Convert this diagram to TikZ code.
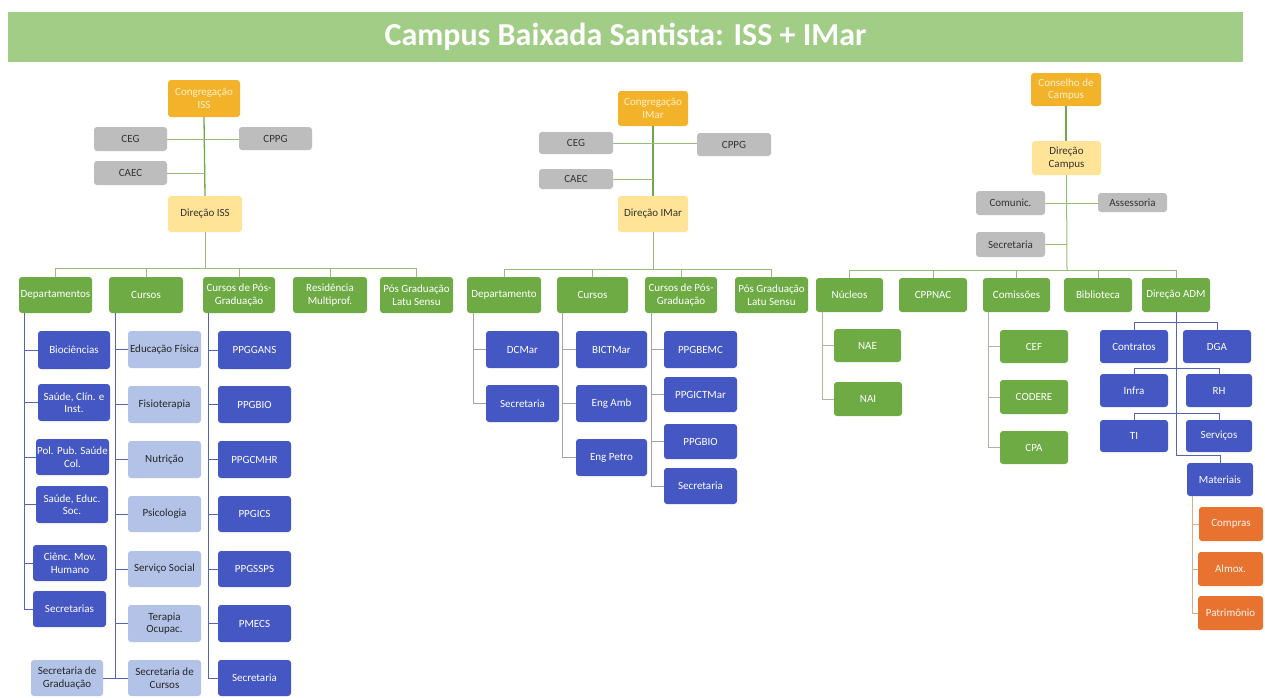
\documentclass[tikz,border=0pt]{standalone}
\usepackage{fontspec}
\setmainfont{Carlito}
\usetikzlibrary{calc}
\definecolor{cTitle}{HTML}{A2CD87}
\definecolor{cOrange}{HTML}{F2B32A}
\definecolor{cOrangeTxt}{HTML}{FFF0C8}
\definecolor{cYellow}{HTML}{FFE497}
\definecolor{cGray}{HTML}{BDBDBD}
\definecolor{cGreen}{HTML}{6EAB45}
\definecolor{cBlue}{HTML}{4457C2}
\definecolor{cLBlue}{HTML}{B3C3E8}
\definecolor{cOr}{HTML}{E8722F}
\definecolor{lnTop}{HTML}{96BE7A}
\definecolor{lnTopDark}{HTML}{6EA84A}
\definecolor{lnBlue}{HTML}{5565B5}
\definecolor{lnGray}{HTML}{A3A3A3}
\definecolor{lnGG}{HTML}{A8BA98}
\definecolor{lnTan}{HTML}{D8AE86}
\tikzset{
  box/.style={rounded corners=3pt, align=center, inner sep=0.5pt, font=\fontsize{11}{12.5}\selectfont},
  topbox/.style={box, fill=cOrange, text=cOrangeTxt},
  yelbox/.style={box, fill=cYellow, text=black!80},
  graybox/.style={box, fill=cGray, text=black!80},
  grnbox/.style={box, fill=cGreen, text=white},
  bluebox/.style={box, fill=cBlue, text=white},
  lbbox/.style={box, fill=cLBlue, text=black!85},
  orbox/.style={box, fill=cOr, text=white!92!orange},
  lnT/.style={draw=lnTop, line width=1pt},
  lnTD/.style={draw=lnTopDark, line width=1.3pt},
  lnB/.style={draw=lnBlue, line width=1pt},
  lnG/.style={draw=lnGray, line width=1pt},
  lnGG/.style={draw=lnGG, line width=1pt},
  lnA/.style={draw=lnBlue, line width=1pt},
  lnO/.style={draw=lnTan, line width=1pt},
}
\newcommand\bx[7]{\node[#6, minimum width={(#4-#2)*1pt}, minimum height={(#5-#3)*1pt}] (#1) at ({(#2+#4)/2},{(#3+#5)/2}) {#7};}
\begin{document}
\begin{tikzpicture}[x=1pt, y=-1pt]
\useasboundingbox (0,0) rectangle (1265,697);
\fill[white] (0,0) rectangle (1265,697);
% title
\node[fill=cTitle, minimum width=1235pt, minimum height=50pt, inner sep=0pt, text=white, font=\fontsize{32}{34}\selectfont\bfseries] (title) at (625.5,37) {Campus Baixada Santista: ISS + IMar};

% ================= ISS =================
\bx{congISS}{168}{80}{240}{117}{topbox}{Congregação\\ISS}
\bx{cegS}{94}{127}{167}{151}{graybox}{CEG}
\bx{cppgS}{239}{127}{312}{150}{graybox}{CPPG}
\bx{caecS}{94}{161}{167}{185}{graybox}{CAEC}
\bx{dirISS}{168}{196}{242}{232}{yelbox}{Direção ISS}

\bx{depS}{19}{277}{92}{313}{grnbox}{Departamentos}
\bx{curS}{109}{277}{183}{313}{grnbox}{Cursos}
\bx{posS}{203}{277}{275}{313}{grnbox}{Cursos de Pós-\\Graduação}
\bx{resS}{293}{277}{367}{313}{grnbox}{Residência\\Multiprof.}
\bx{latS}{380}{277}{453}{313}{grnbox}{Pós Graduação\\Latu Sensu}

\bx{bio}{38}{331}{110}{369}{bluebox}{Biociências}
\bx{sci}{38}{384}{110}{421}{bluebox}{Saúde, Clín. e\\Inst.}
\bx{pps}{36}{439}{109}{475}{bluebox}{Pol. Pub. Saúde\\Col.}
\bx{ses}{36}{486}{108}{523}{bluebox}{Saúde, Educ.\\Soc.}
\bx{cmh}{33}{545}{107}{581}{bluebox}{Ciênc. Mov.\\Humano}
\bx{secs}{33}{591}{106}{627}{bluebox}{Secretarias}

\bx{edf}{128}{331}{201}{368}{lbbox}{Educação Física}
\bx{fis}{128}{386}{201}{423}{lbbox}{Fisioterapia}
\bx{nut}{128}{441}{201}{478}{lbbox}{Nutrição}
\bx{psi}{128}{496}{201}{532}{lbbox}{Psicologia}
\bx{sso}{128}{551}{201}{587}{lbbox}{Serviço Social}
\bx{tocu}{128}{605}{201}{642}{lbbox}{Terapia\\Ocupac.}
\bx{secc}{128}{660}{201}{696}{lbbox}{Secretaria de\\Cursos}
\bx{secg}{31}{660}{103}{696}{lbbox}{Secretaria de\\Graduação}

\bx{pgans}{218}{331}{291}{369}{bluebox}{PPGGANS}
\bx{pgbio}{218}{386}{291}{423}{bluebox}{PPGBIO}
\bx{pgcm}{218}{441}{291}{478}{bluebox}{PPGCMHR}
\bx{pgics}{218}{496}{291}{532}{bluebox}{PPGICS}
\bx{pgss}{218}{551}{291}{587}{bluebox}{PPGSSPS}
\bx{pmecs}{218}{605}{291}{642}{bluebox}{PMECS}
\bx{pgsec}{218}{660}{291}{696}{bluebox}{Secretaria}

\draw[lnTD] (congISS.south) -- (dirISS.north);
\draw[lnT] (cegS.east) -- (cegS.east -| cppgS.west);
\draw[lnT] (caecS.east) -- (caecS.east -| dirISS.north);
\coordinate (issbus) at (205,268);
\draw[lnT] (dirISS.south) -- (issbus);
\foreach \n in {depS,curS,posS,resS,latS} \draw[lnT] (issbus) -| (\n.north);

\coordinate (depSp) at ($(depS.south west)+(6,0)$);
\foreach \n in {bio,sci,pps,ses,cmh,secs} \draw[lnB] (depSp) |- (\n.west);
\coordinate (curSp) at ($(curS.south west)+(7,0)$);
\foreach \n in {edf,fis,nut,psi,sso,tocu,secc} \draw[lnB] (curSp) |- (\n.west);
\draw[lnB] (curSp) |- (secg.east);
\coordinate (posSp) at ($(posS.south west)+(6,0)$);
\foreach \n in {pgans,pgbio,pgcm,pgics,pgss,pmecs,pgsec} \draw[lnB] (posSp) |- (\n.west);

% ================= IMar =================
\bx{congIM}{618}{91}{688}{126}{topbox}{Congregação\\IMar}
\bx{cegM}{539}{132}{613}{154}{graybox}{CEG}
\bx{cppgM}{697}{133}{771}{156}{graybox}{CPPG}
\bx{caecM}{539}{169}{613}{189}{graybox}{CAEC}
\bx{dirIM}{618}{196}{688}{232}{yelbox}{Direção IMar}

\bx{depM}{467}{277}{541}{313}{grnbox}{Departamento}
\bx{curM}{557}{277}{628}{313}{grnbox}{Cursos}
\bx{posM}{645}{277}{717}{313}{grnbox}{Cursos de Pós-\\Graduação}
\bx{latM}{735}{277}{808}{313}{grnbox}{Pós Graduação\\Latu Sensu}

\bx{dcmar}{486}{331}{559}{368}{bluebox}{DCMar}
\bx{secM}{486}{385}{559}{422}{bluebox}{Secretaria}
\bx{bict}{576}{331}{647}{368}{bluebox}{BICTMar}
\bx{engamb}{576}{385}{647}{422}{bluebox}{Eng Amb}
\bx{engpet}{576}{439}{647}{476}{bluebox}{Eng Petro}
\bx{pgbemc}{664}{331}{737}{368}{bluebox}{PPGBEMC}
\bx{pgict}{664}{377}{737}{412}{bluebox}{PPGICTMar}
\bx{pgbioM}{664}{424}{737}{459}{bluebox}{PPGBIO}
\bx{pgsecM}{664}{468}{737}{504}{bluebox}{Secretaria}

\draw[lnTD] (congIM.south) -- (dirIM.north);
\draw[lnT] (cegM.east) -- (cegM.east -| cppgM.west);
\draw[lnT] (caecM.east) -- (caecM.east -| dirIM.north);
\coordinate (imbus) at (653,269);
\draw[lnT] (dirIM.south) -- (imbus);
\foreach \n in {depM,curM,posM,latM} \draw[lnT] (imbus) -| (\n.north);

\coordinate (depMp) at ($(depM.south west)+(7,0)$);
\foreach \n in {dcmar,secM} \draw[lnG] (depMp) |- (\n.west);
\coordinate (curMp) at ($(curM.south west)+(6,0)$);
\foreach \n in {bict,engamb,engpet} \draw[lnG] (curMp) |- (\n.west);
\coordinate (posMp) at ($(posM.south west)+(7,0)$);
\foreach \n in {pgbemc,pgict,pgbioM,pgsecM} \draw[lnG] (posMp) |- (\n.west);

% ================= Campus =================
\bx{cons}{1031}{73}{1101}{106}{topbox}{Conselho de\\Campus}
\bx{dirC}{1032}{141}{1101}{175}{yelbox}{Direção\\Campus}
\bx{com}{976}{191}{1045}{215}{graybox}{Comunic.}
\bx{ass}{1098}{193}{1167}{212}{graybox}{Assessoria}
\bx{secC}{976}{232}{1045}{257}{graybox}{Secretaria}

\bx{nuc}{816}{278}{883}{312}{grnbox}{Núcleos}
\bx{cppnac}{899}{278}{967}{312}{grnbox}{CPPNAC}
\bx{comi}{983}{278}{1050}{312}{grnbox}{Comissões}
\bx{bib}{1064}{278}{1132}{312}{grnbox}{Biblioteca}
\bx{dadm}{1142}{278}{1210}{312}{grnbox}{Direção ADM}

\bx{nae}{834}{329}{901}{362}{grnbox}{NAE}
\bx{nai}{834}{382}{902}{416}{grnbox}{NAI}
\bx{cef}{1000}{330}{1068}{363}{grnbox}{CEF}
\bx{codere}{1000}{380}{1068}{414}{grnbox}{CODERE}
\bx{cpa}{1000}{431}{1068}{464}{grnbox}{CPA}

\bx{contr}{1100}{330}{1168}{363}{bluebox}{Contratos}
\bx{dga}{1183}{330}{1251}{363}{bluebox}{DGA}
\bx{infra}{1100}{374}{1168}{407}{bluebox}{Infra}
\bx{rh}{1186}{374}{1252}{407}{bluebox}{RH}
\bx{ti}{1100}{420}{1168}{452}{bluebox}{TI}
\bx{serv}{1186}{420}{1252}{452}{bluebox}{Serviços}
\bx{mat}{1187}{463}{1253}{496}{bluebox}{Materiais}

\bx{comp}{1199}{507}{1263}{541}{orbox}{Compras}
\bx{almox}{1198}{552}{1263}{586}{orbox}{Almox.}
\bx{patr}{1198}{596}{1263}{630}{orbox}{Patrimônio}

\draw[lnTD] (cons.south) -- (cons.south |- dirC.north);
\coordinate (cbus) at (1067,270);
\draw[lnT] (dirC.south) -- (cbus);
\draw[lnT] (com.east) -- (com.east -| ass.west);
\draw[lnT] (secC.east) -- (secC.east -| dirC.south);
\foreach \n in {nuc,cppnac,comi,bib,dadm} \draw[lnT] (cbus) -| (\n.north);

\coordinate (nucp) at ($(nuc.south west)+(7,0)$);
\foreach \n in {nae,nai} \draw[lnGG] (nucp) |- (\n.west);
\coordinate (comip) at ($(comi.south west)+(6,0)$);
\foreach \n in {cef,codere,cpa} \draw[lnGG] (comip) |- (\n.west);

\coordinate (admT) at (1176,455);
\draw[lnA] (dadm.south) -- (admT) -| (mat.north);
\coordinate (adm1) at (1176,322);
\coordinate (adm2) at (1176,368);
\coordinate (adm3) at (1176,413);
\draw[lnA] (adm1) -| (contr.north);
\draw[lnA] (adm1) -| (dga.north);
\draw[lnA] (adm2) -| (infra.north);
\draw[lnA] (adm2) -| (rh.north);
\draw[lnA] (adm3) -| (ti.north);
\draw[lnA] (adm3) -| (serv.north);

\coordinate (matp) at ($(mat.south west)+(6,0)$);
\foreach \n in {comp,almox,patr} \draw[lnO] (matp) |- (\n.west);
\end{tikzpicture}
\end{document}
